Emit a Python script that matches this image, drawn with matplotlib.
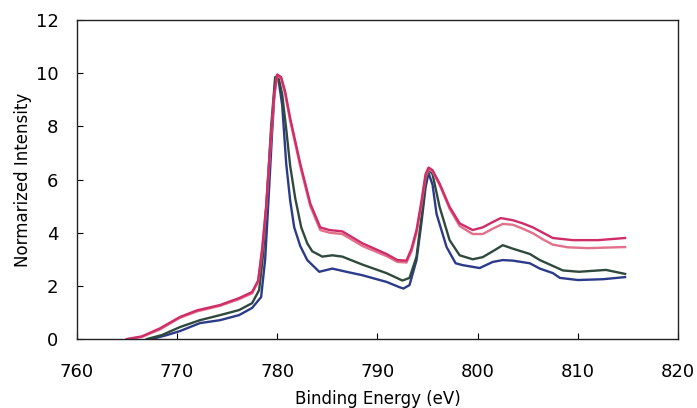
import matplotlib
matplotlib.use("Agg")
import matplotlib.pyplot as plt

plt.rcParams['font.family'] = ['DejaVu Sans']

# Values (binding energy in eV, normalized intensity)
energy_magenta = [765.0, 766.5, 768.3, 770.3, 772.0, 774.3, 776.2, 777.5, 778.1, 778.5,
                  778.9, 779.3, 779.7, 780.0, 780.4, 780.8, 781.3, 782.3, 783.3, 784.3,
                  785.2, 786.5, 788.5, 790.9, 792.0, 792.9, 793.4, 793.9, 794.4, 794.8,
                  795.1, 795.5, 796.2, 797.2, 798.2, 799.5, 800.5, 801.5, 802.3, 803.5,
                  804.5, 805.5, 806.5, 807.5, 809.5, 812.0, 814.7]
intensity_magenta = [0.0, 0.1, 0.4, 0.83, 1.08, 1.28, 1.54, 1.77, 2.2, 3.4,
                     5.0, 7.2, 9.2, 9.95, 9.85, 9.3, 8.3, 6.6, 5.1, 4.2,
                     4.1, 4.05, 3.6, 3.2, 2.97, 2.95, 3.4, 4.1, 5.2, 6.2,
                     6.45, 6.35, 5.85, 4.97, 4.35, 4.1, 4.2, 4.4, 4.55, 4.47,
                     4.35, 4.2, 4.0, 3.8, 3.72, 3.72, 3.8]

energy_pink = [765.2, 766.5, 768.3, 770.3, 772.0, 774.3, 776.2, 777.5, 778.1, 778.5,
               778.9, 779.3, 779.7, 780.0, 780.4, 780.8, 781.3, 782.3, 783.3, 784.3,
               785.2, 786.5, 788.5, 790.9, 792.0, 792.9, 793.4, 793.9, 794.4, 794.8,
               795.1, 795.5, 796.2, 797.2, 798.2, 799.5, 800.5, 801.5, 802.5, 803.5,
               804.5, 805.5, 806.5, 807.5, 809.0, 811.0, 814.7]
intensity_pink = [0.0, 0.08, 0.36, 0.8, 1.04, 1.25, 1.5, 1.72, 2.15, 3.3,
                  4.9, 7.1, 9.1, 9.9, 9.8, 9.2, 8.2, 6.5, 5.0, 4.1,
                  4.0, 3.95, 3.5, 3.12, 2.9, 2.88, 3.3, 4.0, 5.1, 6.1,
                  6.4, 6.3, 5.8, 4.9, 4.25, 3.95, 3.95, 4.15, 4.33, 4.3,
                  4.15, 3.98, 3.75, 3.55, 3.45, 3.42, 3.46]

energy_green = [767.0, 768.5, 770.3, 772.3, 774.3, 776.2, 777.5, 778.2, 778.6, 779.0,
                779.4, 779.8, 780.1, 780.5, 780.9, 781.3, 781.8, 782.4, 783.0, 783.5,
                784.5, 785.5, 786.5, 788.5, 790.9, 792.5, 793.2, 793.9, 794.4, 794.8,
                795.1, 795.5, 796.2, 797.2, 798.2, 799.5, 800.5, 801.5, 802.5, 803.5,
                805.2, 806.2, 807.5, 808.5, 810.1, 812.8, 814.7]
intensity_green = [0.0, 0.15, 0.45, 0.71, 0.9, 1.09, 1.35, 1.84, 3.2, 5.5,
                   8.0, 9.85, 9.9, 9.2, 7.9, 6.5, 5.3, 4.2, 3.6, 3.3,
                   3.1, 3.15, 3.1, 2.8, 2.48, 2.2, 2.3, 3.1, 4.6, 5.9,
                   6.4, 6.2, 4.97, 3.72, 3.15, 3.0, 3.08, 3.3, 3.53, 3.4,
                   3.2, 2.97, 2.75, 2.58, 2.53, 2.6, 2.45]

energy_blue = [767.5, 769.0, 770.3, 772.3, 774.3, 776.2, 777.5, 778.4, 778.8, 779.1,
               779.5, 779.8, 780.1, 780.5, 780.9, 781.3, 781.7, 782.3, 783.0, 784.2,
               785.5, 786.9, 788.5, 790.9, 792.2, 792.6, 793.2, 793.9, 794.4, 794.8,
               795.1, 795.5, 795.9, 796.9, 797.8, 798.5, 800.2, 801.5, 802.5, 803.5,
               805.2, 806.2, 807.5, 808.2, 810.0, 812.5, 814.7]
intensity_blue = [0.0, 0.15, 0.3, 0.6, 0.71, 0.9, 1.17, 1.58, 3.0, 5.0,
                  7.8, 9.7, 9.85, 8.8, 6.6, 5.2, 4.2, 3.5, 2.97, 2.53,
                  2.65, 2.53, 2.4, 2.15, 1.95, 1.9, 2.03, 2.97, 4.4, 5.7,
                  6.25, 5.8, 4.7, 3.46, 2.85, 2.78, 2.67, 2.9, 2.97, 2.95,
                  2.85, 2.65, 2.48, 2.3, 2.22, 2.25, 2.33]

fig = plt.figure(figsize=(6.97, 4.08), dpi=100)
ax = fig.add_axes([0.110, 0.169, 0.863, 0.782])

ax.plot(energy_blue, intensity_blue, color='#2b3b8a', lw=1.7)
ax.plot(energy_green, intensity_green, color='#2f4a3c', lw=1.7)
ax.plot(energy_pink, intensity_pink, color='#e3708a', lw=1.7)
ax.plot(energy_magenta, intensity_magenta, color='#cf2c68', lw=1.7)

ax.set_xlim(760, 820)
ax.set_ylim(0, 12)
ax.set_xticks(range(760, 821, 10))
ax.set_yticks(range(0, 13, 2))
ax.tick_params(direction='in', length=4, width=0.8, labelsize=13)
ax.tick_params(axis='x', pad=17)
ax.tick_params(axis='y', pad=13)
for s in ax.spines.values():
    s.set_linewidth(1.0)
    s.set_color('#222222')

ax.set_xlabel("Binding Energy (eV)", fontsize=12, labelpad=7)
ax.set_ylabel("Normarized Intensity", fontsize=12, labelpad=3)

plt.savefig("out.png", dpi=100)
